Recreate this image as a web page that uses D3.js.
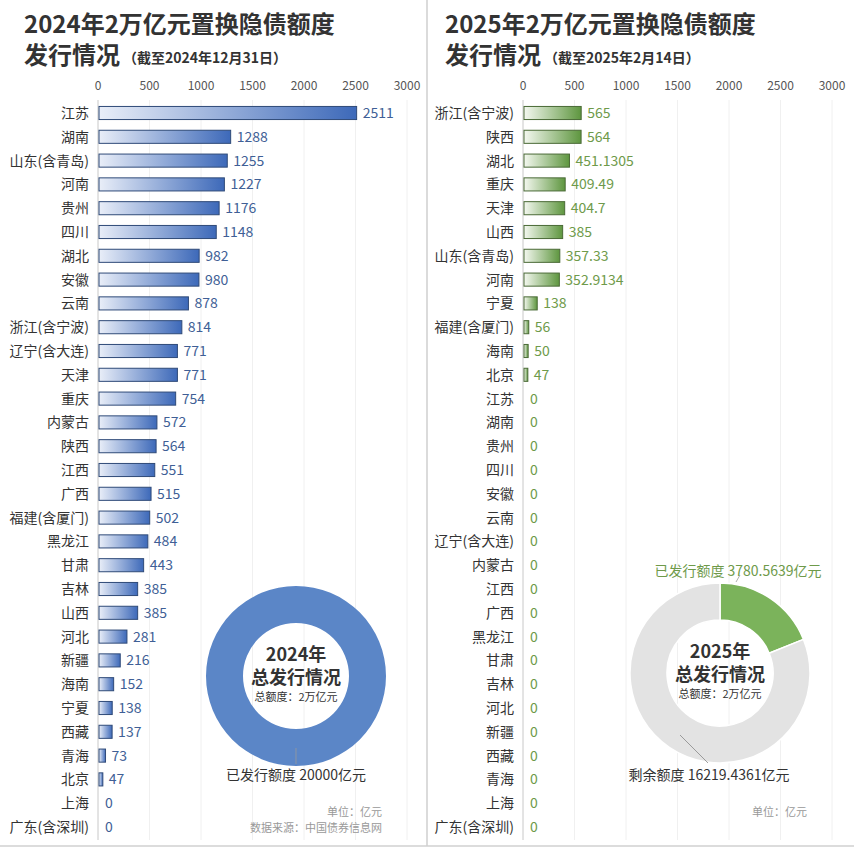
<!DOCTYPE html>
<html><head><meta charset="utf-8">
<script src="https://cdn.jsdelivr.net/npm/d3@7"></script>
<style>
html,body{margin:0;padding:0;background:#fff;}
svg{display:block;font-family:"Noto Sans CJK SC","Noto Sans",sans-serif;}
</style></head>
<body>
<svg id="chart" width="854" height="852"></svg>
<script>
// ---------- DATA ----------
const cats2024 = ["江苏","湖南","山东(含青岛)","河南","贵州","四川","湖北","安徽","云南","浙江(含宁波)","辽宁(含大连)","天津","重庆","内蒙古","陕西","江西","广西","福建(含厦门)","黑龙江","甘肃","吉林","山西","河北","新疆","海南","宁夏","西藏","青海","北京","上海","广东(含深圳)"];
const vals2024 = [2511,1288,1255,1227,1176,1148,982,980,878,814,771,771,754,572,564,551,515,502,484,443,385,385,281,216,152,138,137,73,47,0,0];
const cats2025 = ["浙江(含宁波)","陕西","湖北","重庆","天津","山西","山东(含青岛)","河南","宁夏","福建(含厦门)","海南","北京","江苏","湖南","贵州","四川","安徽","云南","辽宁(含大连)","内蒙古","江西","广西","黑龙江","甘肃","吉林","河北","新疆","西藏","青海","上海","广东(含深圳)"];
const vals2025 = [565,564,451.1305,409.49,404.7,385,357.33,352.9134,138,56,50,47,0,0,0,0,0,0,0,0,0,0,0,0,0,0,0,0,0,0,0];
const xTicks = [0,500,1000,1500,2000,2500,3000];
const donut2024Labels = ["已发行额度"];
const donut2024Values = [20000];
const donut2025Labels = ["已发行额度","剩余额度"];
const donut2025Values = [3780.5639,16219.4361];

// ---------- DRAW ----------
const svg = d3.select("#chart");
const defs = svg.append("defs");

function grad(id, c0, c1){
  const g = defs.append("linearGradient").attr("id", id)
    .attr("x1","0%").attr("x2","100%").attr("y1","0%").attr("y2","0%");
  g.append("stop").attr("offset","0%").attr("stop-color", c0);
  g.append("stop").attr("offset","100%").attr("stop-color", c1);
}
grad("gBlue", "#e9eef8", "#3d69b9");
grad("gGreen", "#f4f8f0", "#5e963f");

// separators
svg.append("line").attr("x1",427).attr("x2",427).attr("y1",0).attr("y2",846).attr("stroke","#cfcfcf").attr("stroke-width",1.5);
svg.append("line").attr("x1",0).attr("x2",854).attr("y1",846).attr("y2",846).attr("stroke","#d0d0d0").attr("stroke-width",1.5);

function panel(o){
  const g = svg.append("g");
  // title
  g.append("text").attr("x",o.tx).attr("y",33).attr("font-size",24).attr("font-weight",700).attr("fill","#333").text(o.title1);
  const t2 = g.append("text").attr("x",o.tx).attr("y",64).attr("fill","#333").attr("font-weight",700);
  t2.append("tspan").attr("font-size",24).text("发行情况");
  t2.append("tspan").attr("font-size",14).attr("dx",3).attr("dy",-1).text(o.sub);

  const x = d3.scaleLinear().domain([0,3000]).range([o.x0, o.x0+309]);
  const y = d3.scaleBand().domain(o.cats).range([101.1, 838.9]).paddingInner(0.45).paddingOuter(0.225);

  // grid
  g.selectAll(".grid").data(xTicks.slice(1)).join("line")
    .attr("x1",d=>x(d)).attr("x2",d=>x(d)).attr("y1",100).attr("y2",840)
    .attr("stroke","#f0f0f0").attr("stroke-width",1);
  // tick labels
  g.selectAll(".tick").data(xTicks).join("text")
    .attr("x",d=>x(d)).attr("y",90).attr("text-anchor","middle")
    .attr("font-size",12).attr("fill","#555").text(d=>d);
  // axis line
  g.append("line").attr("x1",x(0)).attr("x2",x(0)).attr("y1",100).attr("y2",840).attr("stroke","#c8c8c8").attr("stroke-width",1);

  // category labels
  g.selectAll(".cat").data(o.cats).join("text")
    .attr("x",x(0)-9).attr("y",d=>y(d)+y.bandwidth()/2).attr("dy","0.35em")
    .attr("text-anchor","end").attr("font-size",14).attr("fill","#333").text(d=>d);

  const data = o.cats.map((c,i)=>({c, v:o.vals[i]}));
  g.selectAll(".bar").data(data.filter(d=>d.v>0)).join("rect")
    .attr("x",x(0)+1).attr("y",d=>y(d.c)).attr("height",y.bandwidth())
    .attr("width",d=>Math.max(2, x(d.v)-x(0)-1))
    .attr("fill",`url(#${o.grad})`).attr("stroke",o.stroke).attr("stroke-width",1);
  g.selectAll(".val").data(data).join("text")
    .attr("x",d=>x(d.v)+(d.v>0?6:7)).attr("y",d=>y(d.c)+y.bandwidth()/2).attr("dy","0.35em")
    .attr("font-size",14).attr("fill",o.valColor).text(d=>String(d.v));
  return g;
}

panel({tx:24, title1:"2024年2万亿元置换隐债额度", sub:"（截至2024年12月31日）", x0:98,
  cats:cats2024, vals:vals2024, grad:"gBlue", stroke:"#2f4a78", valColor:"#3f5f96"});
panel({tx:445, title1:"2025年2万亿元置换隐债额度", sub:"（截至2025年2月14日）", x0:523,
  cats:cats2025, vals:vals2025, grad:"gGreen", stroke:"#4a6a36", valColor:"#6e9a4a"});

// donuts
const pie = d3.pie().sort(null);
const arc = d3.arc().innerRadius(53).outerRadius(90);

function centerText(g, year){
  g.append("text").attr("y",-15).attr("text-anchor","middle").attr("font-size",18).attr("font-weight",700).attr("fill","#333").text(year);
  g.append("text").attr("y",8).attr("text-anchor","middle").attr("font-size",18).attr("font-weight",700).attr("fill","#333").text("总发行情况");
  g.append("text").attr("y",25).attr("text-anchor","middle").attr("font-size",11).attr("fill","#333").text("总额度：2万亿元");
}

// 2024 donut
const d1 = svg.append("g").attr("transform","translate(296,676)");
d1.selectAll("path").data(pie(donut2024Values)).join("path").attr("d",arc).attr("fill","#5b86c7");
centerText(d1, "2024年");
d1.append("line").attr("x1",0).attr("x2",0).attr("y1",72).attr("y2",88).attr("stroke","#999").attr("stroke-width",0.8);
d1.append("text").attr("y",104).attr("text-anchor","middle").attr("font-size",14).attr("fill","#333")
  .text(donut2024Labels[0]+" "+donut2024Values[0]+"亿元");

// 2025 donut
const d2 = svg.append("g").attr("transform","translate(720,673)");
d2.selectAll("path").data(pie(donut2025Values)).join("path").attr("d",arc)
  .attr("fill",(d,i)=>i===0?"#7bb35b":"#e3e3e3").attr("stroke","#fff").attr("stroke-width",1.5);
centerText(d2, "2025年");
d2.append("line").attr("x1",16).attr("x2",20).attr("y1",-91).attr("y2",-98).attr("stroke","#999").attr("stroke-width",0.8);
d2.append("text").attr("x",18).attr("y",-97).attr("text-anchor","middle").attr("font-size",14).attr("fill","#6e9a4a")
  .text(donut2025Labels[0]+" "+donut2025Values[0]+"亿元");
d2.append("line").attr("x1",-40).attr("x2",-12).attr("y1",62).attr("y2",90).attr("stroke","#888").attr("stroke-width",0.8);
d2.append("text").attr("x",-11).attr("y",107).attr("text-anchor","middle").attr("font-size",14).attr("fill","#333")
  .text(donut2025Labels[1]+" "+donut2025Values[1]+"亿元");

// footers
svg.append("text").attr("x",382).attr("y",816).attr("text-anchor","end").attr("font-size",11).attr("fill","#999").text("单位：亿元");
svg.append("text").attr("x",382).attr("y",832).attr("text-anchor","end").attr("font-size",11).attr("fill","#999").text("数据来源：中国债券信息网");
svg.append("text").attr("x",807).attr("y",816).attr("text-anchor","end").attr("font-size",11).attr("fill","#999").text("单位：亿元");
</script>
</body></html>
